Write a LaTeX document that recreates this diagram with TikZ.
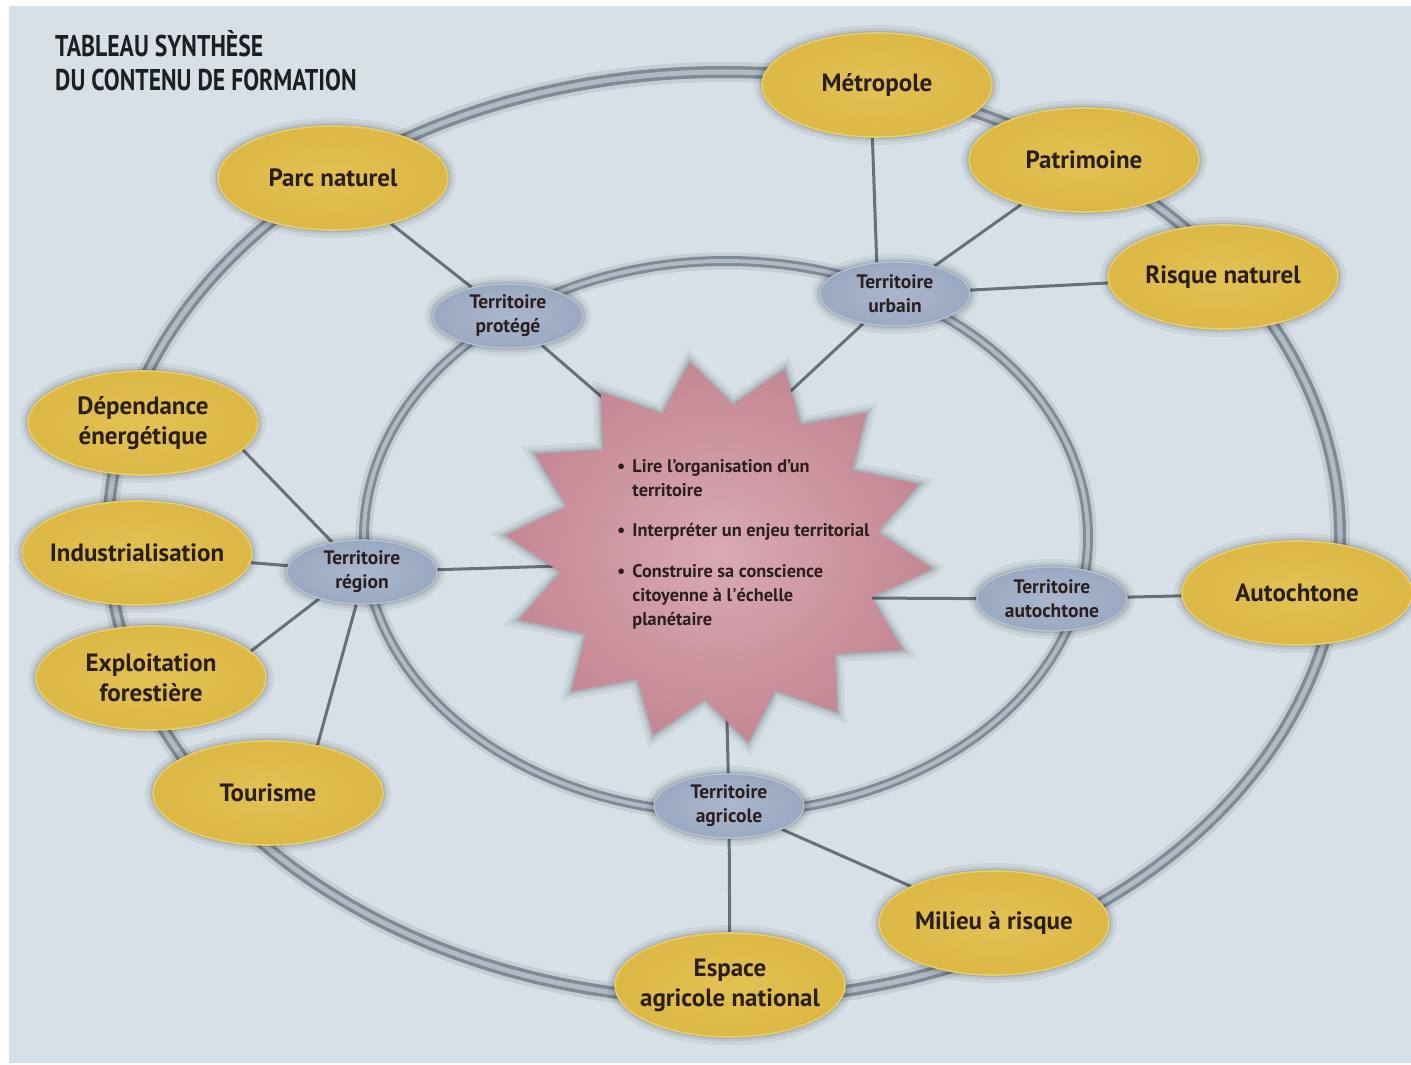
\documentclass[tikz,border=0pt]{standalone}
\usepackage{fontspec}
\newfontfamily\nf{PT Sans}
\newfontfamily\tf{PT Sans}[FakeStretch=0.79]
\usetikzlibrary{shapes.geometric}
\pgfdeclarelayer{bg}\pgfdeclarelayer{mid}
\pgfsetlayers{bg,mid,main}
\definecolor{bgpanel}{HTML}{D6E0E6}
\definecolor{yfill}{HTML}{DCB845}
\definecolor{ylight}{HTML}{E2C153}
\definecolor{yborder}{HTML}{E9CD6C}
\definecolor{blight}{HTML}{AAB7CD}
\definecolor{bdark}{HTML}{9AA8C1}
\definecolor{bborder}{HTML}{B9C4D6}
\definecolor{slight}{HTML}{D8AAB4}
\definecolor{sdark}{HTML}{C48793}
\definecolor{ringd}{HTML}{7E8A96}
\definecolor{ringl}{HTML}{B0BAC4}
\definecolor{linec}{HTML}{66717C}
\definecolor{txt}{HTML}{2A1E1E}
\tikzset{
  halo/.style={preaction={draw=black,draw opacity=.05,line width=16pt},
               preaction={draw=black,draw opacity=.07,line width=9pt},
               preaction={draw=black,draw opacity=.10,line width=4pt}},
  yel/.style={ellipse, minimum width=230pt, minimum height=104pt, inner xsep=-14pt, inner ysep=0pt,
              align=center, font=\nf\bfseries\fontsize{25}{30}\selectfont, text=txt,
              inner color=ylight, outer color=yfill, draw=yborder, line width=1.6pt, halo},
  blu/.style={ellipse, minimum width=150pt, minimum height=64pt, inner xsep=-6pt, inner ysep=0pt,
              align=center, font=\nf\bfseries\fontsize{19.5}{24}\selectfont, text=txt,
              inner color=blight, outer color=bdark, draw=bborder, line width=1.2pt, halo},
  conn/.style={draw=linec, line width=3pt},
  ringshadow/.style={draw=black, draw opacity=.08, line width=20pt},
  ringdark/.style={draw=ringd, line width=12pt},
  ringlight/.style={draw=ringl, line width=5pt},
  titletext/.style={font=\tf\bfseries\fontsize{30}{34}\selectfont, text=black!88, inner sep=0pt, anchor=base west},
  goaltext/.style={font=\nf\bfseries\fontsize{18.3}{24}\selectfont, text=txt, inner sep=0pt, anchor=base west}
}
\begin{document}
\begin{tikzpicture}[x=1pt,y=-1pt]
\useasboundingbox (0,0) rectangle (1411,1065);
\begin{pgfonlayer}{bg}
  \fill[white] (0,0) rectangle (1411,1065);
  \fill[bgpanel] (9,6) rectangle (1411,1063);
  % rings
  \path[ringshadow] (724,536) ellipse [x radius=616pt, y radius=464pt];
  \path[ringdark] (724,536) ellipse [x radius=616pt, y radius=464pt];
  \path[ringlight] (724,536) ellipse [x radius=616pt, y radius=464pt];
  \path[ringshadow, line width=17pt] (726,537) ellipse [x radius=362pt, y radius=276pt];
  \path[ringdark, line width=10pt] (726,537) ellipse [x radius=362pt, y radius=276pt];
  \path[ringlight, line width=4pt] (726,537) ellipse [x radius=362pt, y radius=276pt];
\end{pgfonlayer}

% title
\node[titletext] (title1) at (55,57) {TABLEAU SYNTHÈSE};
\node[titletext] (title2) at (55,91) {DU CONTENU DE FORMATION};

% star
\path[halo, inner color=slight, outer color=sdark]
  ({719+214*cos(-5)},{552-192*sin(-5)})
  \foreach \k in {0,...,13}{
    -- ({719+160*cos(-5+\k*25.714+12.857)},{552-148*sin(-5+\k*25.714+12.857)})
    -- ({719+214*cos(-5+(\k+1)*25.714)},{552-192*sin(-5+(\k+1)*25.714)})
  } -- cycle;
\coordinate (sp) at (640,430);
\coordinate (su) at (765,415);
\coordinate (sr) at (560,566);
\coordinate (sa) at (860,598);
\coordinate (sg) at (727,720);

\node[goaltext] (goals) at (617,472) {%
  \begin{tabular}[t]{@{}l@{\hspace{7pt}}l@{}}
  • & Lire l’organisation d’un\\
    & territoire\\[16pt]
  • & Interpréter un enjeu territorial\\[17pt]
  • & Construire sa conscience\\
    & citoyenne à l\textquotesingle échelle\\
    & planétaire
  \end{tabular}};

% outer nodes
\node[yel] (metro) at (877,85) {Métropole};
\node[yel] (patri) at (1084,160) {Patrimoine};
\node[yel] (risque) at (1223,277) {Risque naturel};
\node[yel] (parc) at (333,178) {Parc naturel};
\node[yel] (dep) at (143,423) {Dépendance\\énergétique};
\node[yel] (indus) at (137,553) {Industrialisation};
\node[yel] (exploit) at (151,678) {Exploitation\\forestière};
\node[yel] (tour) at (268,793) {Tourisme};
\node[yel] (autoc) at (1297,593) {Autochtone};
\node[yel] (milieu) at (994,923) {Milieu à risque};
\node[yel] (espace) at (730,985) {Espace\\agricole national};

% inner nodes
\node[blu] (tprot) at (508,316) {Territoire\\protégé};
\node[blu] (turb) at (895,294) {Territoire\\urbain};
\node[blu] (treg) at (362,572) {Territoire\\région};
\node[blu] (taut) at (1052,599) {Territoire\\autochtone};
\node[blu] (tagr) at (729,806) {Territoire\\agricole};

\begin{pgfonlayer}{mid}
  \draw[conn] (parc) -- (tprot);
  \draw[conn] (tprot) -- (sp);
  \draw[conn] (metro.265) -- (turb.120);
  \draw[conn] (patri) -- (turb);
  \draw[conn] (risque) -- (turb);
  \draw[conn] (turb) -- (su);
  \draw[conn] (dep.-15) -- (treg.135);
  \draw[conn] (indus) -- (treg);
  \draw[conn] (exploit.15) -- (treg.212);
  \draw[conn] (tour.44) -- (treg.260);
  \draw[conn] (treg) -- (sr);
  \draw[conn] (sa) -- (taut);
  \draw[conn] (taut) -- (autoc);
  \draw[conn] (sg) -- (tagr);
  \draw[conn] (tagr) -- (milieu);
  \draw[conn] (tagr) -- (espace);
\end{pgfonlayer}
\end{tikzpicture}
\end{document}
